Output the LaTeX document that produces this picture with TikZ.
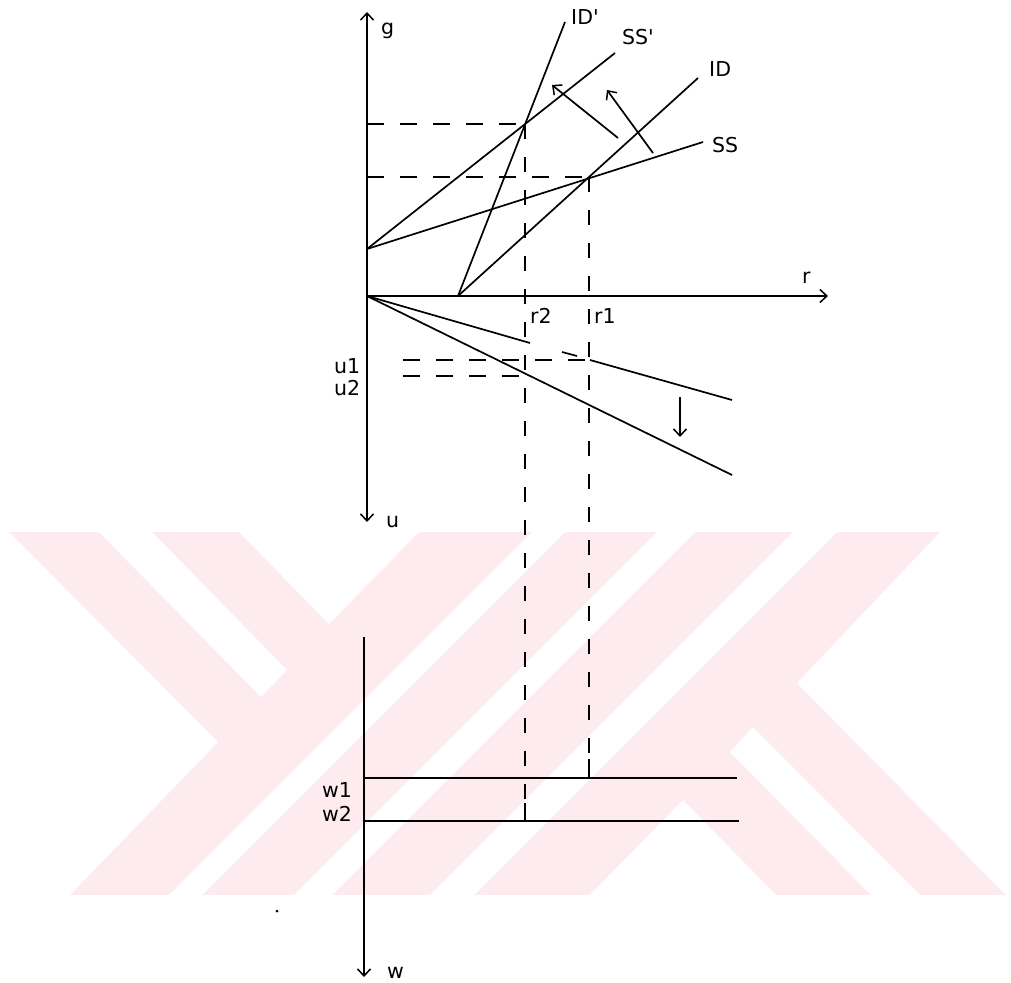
\documentclass[tikz,border=0pt]{standalone}
\usepackage{fontspec}
\setmainfont{DejaVu Sans}
\usetikzlibrary{arrows.meta}
\definecolor{wm}{RGB}{253,235,239}
\begin{document}
\begin{tikzpicture}[x=1pt,y=-1pt,
  ln/.style={line width=1.7pt},
  ax/.style={line width=1.9pt},
  dshv/.style={line width=1.8pt, dash pattern=on 15pt off 18pt},
  dshh/.style={line width=1.8pt, dash pattern=on 17pt off 16pt},
  tip/.style={-{Straight Barb[length=7pt,width=13pt,line width=1.5pt]}},
  tipboth/.style={{Straight Barb[length=7pt,width=13pt,line width=1.5pt]}-{Straight Barb[length=7pt,width=13pt,line width=1.5pt]}},
  lbl/.style={anchor=base west, inner sep=0pt, font=\fontsize{20.5}{24}\selectfont}]
\useasboundingbox (0,0) rectangle (1011,982);
% watermark
\fill[wm] (0,532) rectangle (1011,895);
\begin{scope}
\clip (0,532) rectangle (1011,895);
\fill[white] (-2,530) -- (7,530) -- (218,742) -- (68,897) -- (-2,897) -- cycle;
\fill[white] (97,530) -- (150,530) -- (287,670) -- (261,697) -- cycle;
\fill[white] (237,530) -- (421,530) -- (329,624) -- cycle;
\fill[white] (532,532) -- (565,532) -- (202,895) -- (169,895) -- cycle;
\fill[white] (657,532) -- (695,532) -- (332,895) -- (294,895) -- cycle;
\fill[white] (793,532) -- (837,532) -- (474,895) -- (430,895) -- cycle;
\fill[white] (683,800) -- (588,897) -- (778,897) -- cycle;
\fill[white] (753,727) -- (730,752) -- (873,897) -- (922,897) -- cycle;
\fill[white] (942,530) -- (1013,530) -- (1013,897) -- (1008,897) -- (797,683) -- cycle;
\end{scope}
\fill (277,911) circle (1.5pt);
% coordinates
\coordinate (O) at (367,296);
\coordinate (gtop) at (367,12);
\coordinate (ubot) at (367,522);
\coordinate (rend) at (828,296);
\coordinate (S0) at (367,249);
\coordinate (R0) at (458,296);
\coordinate (E1) at (589,177);
\coordinate (E2) at (525,124);
\coordinate (SSe) at (703,142);
\coordinate (SSpe) at (615,53);
\coordinate (IDe) at (698,78);
\coordinate (IDpe) at (565,22);
\coordinate (G1) at (367,177);
\coordinate (G2) at (367,124);
\coordinate (A1s) at (618,138);
\coordinate (A1e) at (552,85);
\coordinate (A2s) at (653,153);
\coordinate (A2e) at (607,90);
\coordinate (U1a) at (530,343);
\coordinate (U1b) at (562,352);
\coordinate (U1c) at (577,356);
\coordinate (U1d) at (590,360);
\coordinate (U1e) at (732,400);
\coordinate (U2e) at (732,475);
\coordinate (DAs) at (680,397);
\coordinate (DAe) at (680,437);
\coordinate (H1s) at (403,360);
\coordinate (H1e) at (589,360);
\coordinate (H2s) at (403,376);
\coordinate (H2e) at (525,376);
\coordinate (Wtop) at (364,637);
\coordinate (Wbot) at (364,977);
\coordinate (W1s) at (364,778);
\coordinate (W1e) at (737,778);
\coordinate (W2s) at (364,821);
\coordinate (W2e) at (739,821);
\coordinate (V1b) at (589,778);
\coordinate (V1m) at (589,759);
\coordinate (V2b) at (525,821);
\coordinate (V2m) at (525,803);
% axes
\draw[ax,tipboth] (ubot) -- (gtop);
\draw[ax,tip] (O) -- (rend);
\draw[ax,tip] (Wtop) -- (Wbot);
% upper quadrant lines
\draw[ln] (S0) -- (SSe);
\draw[ln] (S0) -- (SSpe);
\draw[ln] (R0) -- (IDe);
\draw[ln] (R0) -- (IDpe);
\draw[dshh] (G2) -- (E2);
\draw[dshh] (G1) -- (E1);
\draw[dshv] (E2) -- (V2b);
\draw[dshv] (E1) -- (V1b);
\draw[ln,tip] (A1s) -- (A1e);
\draw[ln,tip] (A2s) -- (A2e);
% lower quadrant
\draw[ln] (O) -- (U1a);
\draw[ln] (U1b) -- (U1c);
\draw[ln] (U1d) -- (U1e);
\draw[ln] (O) -- (U2e);
\draw[dshh] (H1s) -- (H1e);
\draw[dshh] (H2s) -- (H2e);
\draw[ln,tip] (DAs) -- (DAe);
% w panel
\draw[ax] (W1s) -- (W1e);
\draw[ax] (W2s) -- (W2e);
\draw[ln] (V1m) -- (V1b);
\draw[ln] (V2m) -- (V2b);
% labels
\node[lbl] (lg) at (381,35) {g};
\node[lbl] (lr) at (802,283) {r};
\node[lbl] (lidp) at (571,25) {ID\textquotesingle};
\node[lbl] (lssp) at (622,45) {SS\textquotesingle};
\node[lbl] (lid) at (709,77) {ID};
\node[lbl] (lss) at (712,152) {SS};
\node[lbl] (lr2) at (530,323) {r2};
\node[lbl] (lr1) at (594,323) {r1};
\node[lbl] (lu1) at (334,373) {u1};
\node[lbl] (lu2) at (334,395) {u2};
\node[lbl] (lu) at (386,527) {u};
\node[lbl] (lw1) at (322,797) {w1};
\node[lbl] (lw2) at (322,821) {w2};
\node[lbl] (lw) at (387,978) {w};
\end{tikzpicture}
\end{document}
